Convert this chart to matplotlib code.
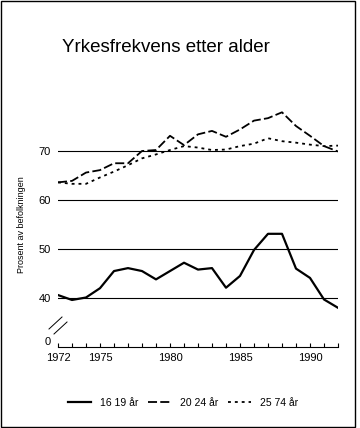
import matplotlib
matplotlib.use("Agg")
import matplotlib.pyplot as plot
from matplotlib.patches import Rectangle
from matplotlib.lines import Line2D

plot.rcParams['font.family'] = ['Liberation Sans', 'DejaVu Sans']

years = list(range(1972, 1993))
age_16_19 = [40.6, 39.6, 40.1, 42.0, 45.5, 46.1, 45.5, 43.8, 45.5, 47.2, 45.8,
             46.1, 42.1, 44.5, 49.8, 53.1, 53.1, 46.0, 44.1, 39.7, 38.0]
age_20_24 = [63.6, 63.9, 65.6, 66.1, 67.5, 67.5, 70.0, 70.2, 73.1, 71.2, 73.4,
             74.1, 72.9, 74.4, 76.2, 76.7, 77.9, 75.1, 73.1, 71.0, 69.9]
age_25_74 = [63.6, 63.3, 63.3, 64.6, 65.8, 67.1, 68.5, 69.3, 70.2, 71.0, 70.7,
             70.2, 70.3, 71.0, 71.5, 72.6, 72.0, 71.7, 71.3, 71.0, 71.1]
labels = ["16 19 år", "20 24 år", "25 74 år"]
y_ticks = [30, 40, 50, 60, 70]
y_tick_labels = ["0", "40", "50", "60", "70"]
x_ticks = [1972, 1975, 1980, 1985, 1990]

W, H = 360, 428
fig = plot.figure(figsize=(W / 100, H / 100), dpi=100)
ax = fig.add_axes([58 / W, 1 - 347 / H, 280 / W, 245 / H])

ax.plot(years, age_16_19, color='black', lw=1.6, solid_joinstyle='round')
ax.plot(years, age_20_24, color='black', lw=1.3, linestyle=(0, (5, 1.8)))
ax.plot(years, age_25_74, color='black', lw=1.3, linestyle=(0, (1.6, 2.2)))

ax.set_xlim(1972, 1992)
ax.set_ylim(30, 80)
for y in y_ticks[1:]:
    ax.axhline(y, color='black', lw=0.8, zorder=0)

for side in ['left', 'right', 'top']:
    ax.spines[side].set_visible(False)
ax.spines['bottom'].set_linewidth(0.8)

ax.set_xticks(years, minor=True)
ax.set_xticks(x_ticks)
ax.tick_params(axis='x', which='both', direction='in', length=3, width=0.8,
               labelsize=8, pad=4)
ax.set_yticks(y_ticks)
ax.set_yticklabels(y_tick_labels)
ax.tick_params(axis='y', length=0, labelsize=8, pad=5)
ax.get_yticklabels()[0].set_va('bottom')
ax.set_ylabel("Prosent av befolkningen", fontsize=6.5, labelpad=9)

# axis break marks
fig.add_artist(Line2D([49 / W, 62 / W], [1 - 329 / H, 1 - 317 / H], color='black', lw=0.7))
fig.add_artist(Line2D([54 / W, 67 / W], [1 - 334 / H, 1 - 322 / H], color='black', lw=0.7))

fig.text(62 / W, 1 - 47 / H, "Yrkesfrekvens etter alder", fontsize=13.5,
         va='center', ha='left')

handles = ax.get_lines()[:3]
fig.legend(handles, labels, loc='center', bbox_to_anchor=(183 / W, 1 - 403 / H),
           ncol=3, frameon=False, fontsize=7.5, handlelength=2.2,
           handletextpad=0.8, columnspacing=1.0)

fig.add_artist(Rectangle((1 / W, 1 / H), 354 / W, 426 / H, transform=fig.transFigure,
                         fill=False, edgecolor='black', lw=1))

fig.savefig("out.png", dpi=100)
